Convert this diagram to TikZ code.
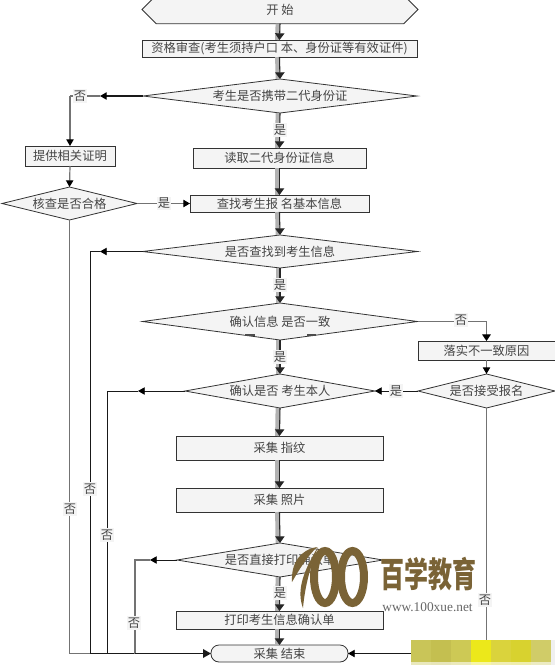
\documentclass[tikz,border=0pt]{standalone}
\usepackage{fontspec}
\setmainfont{Noto Sans CJK SC}
\newfontfamily\urlfont{Liberation Serif}
\usetikzlibrary{arrows.meta,shapes.geometric,shapes.misc}
\definecolor{boxfill}{HTML}{F4F4F4}
\definecolor{inkgray}{HTML}{444444}
\definecolor{logobrown}{HTML}{7A6336}
\tikzset{
  wh/.style 2 args={minimum width=#1*0.75pt, minimum height=#2*0.75pt}, % 节点尺寸
  base/.style={draw=black!80, line width=0.6pt, fill=boxfill, inner sep=0pt, outer sep=0pt, font=\fontsize{9.2}{11}\selectfont, text=inkgray},
  box/.style={base, rectangle},
  ask/.style={base, diamond, aspect=6},
  tag/.style={fill=boxfill, inner sep=1pt, font=\fontsize{9.2}{11}\selectfont, text=inkgray},
  band/.style={draw=black!30, line width=3.4pt},
  flow/.style={draw=black!85, line width=0.8pt, -{Triangle[width=7pt,length=5pt]}},
  wire/.style={draw=black!90, line width=0.6pt},
  graywire/.style={draw=black!55, line width=0.9pt},
  tipblack/.style={-{Triangle[width=5.5pt,length=5pt,color=black,fill=black]}}
}
\begin{document}
\begin{tikzpicture}[x=0.75pt,y=-0.75pt]
    \useasboundingbox (0,0) rectangle (555,665);

    \node[base, chamfered rectangle, chamfered rectangle xsep=13.5pt, chamfered rectangle ysep=6.4pt, wh={276}{17}] (begin) at (280,9.5) {开 始};
    \node[box, wh={275}{17}] (qualify) at (279.5,48.5) {资格审查(考生须持户口 本、身份证等有效证件)};
    \node[ask, wh={274}{34}] (card) at (280,96) {考生是否携带二代身份证};
    \node[box, wh={90}{20}] (proof) at (70,156) {提供相关证明};
    \node[box, wh={173}{20}] (read) at (279.5,158) {读取二代身份证信息};
    \node[ask, aspect=5, wh={135}{33}] (verify) at (69.5,203.5) {核查是否合格};
    \node[box, wh={179}{17}] (search) at (279.5,203.5) {查找考生报 名基本信息};
    \node[ask, wh={275}{33}] (found) at (280,251.5) {是否查找到考生信息};
    \node[ask, wh={275}{37}] (match) at (280,321.5) {确认信息 是否一致};
    \node[box, wh={137}{19}] (reason) at (486.5,350.5) {落实不一致原因};
    \node[ask, aspect=5, wh={137}{34}] (accept) at (486.5,391) {是否接受报名};
    \node[ask, wh={190}{34}] (self) at (280,391) {确认是否 考生本人};
    \node[box, wh={207}{24}] (finger) at (279.5,448) {采集 指纹};
    \node[box, wh={207}{24}] (photo) at (279.5,500) {采集 照片};
    \node[ask, wh={206}{34}] (direct) at (280,560) {是否直接打印确认单};
    \node[box, wh={207}{18}] (print) at (279.5,620) {打印考生信息确认单};
    \node[base, rectangle, rounded corners=6pt, wh={137}{17}] (finish) at (279.5,653.5) {采集 结束};

    \coordinate (cardtip) at (100,96);
    \coordinate (cardturn) at (70,96);
    \coordinate (foundtip) at (100,251.5);
    \coordinate (foundturn) at (90,251.5);
    \coordinate (selftip) at (138,391);
    \coordinate (selfturn) at (107,391);
    \coordinate (directtip) at (150,560);
    \coordinate (directturn) at (135,560);
    \coordinate (matchturn) at (486.5,321.5);
    \coordinate (leftjoin) at (135,653.5);
    \coordinate (rightjoin) at (486.5,653.5);

    % 竖直主干
    \foreach \a/\b in {begin/qualify,qualify/card,card/read,read/search,search/found,found/match,match/self,self/finger,finger/photo,photo/direct,direct/print,print/finish} {
      \draw[band] ([xshift=-1.6pt]\a.south) -- ([xshift=-1.6pt]\b.north);
      \draw[flow] (\a.south) -- (\b.north);
    }

    \draw[wire, line width=0.9pt, tipblack] (card.west) -- (cardtip);
    \draw[graywire] (cardtip) -- (cardturn);
    \draw[graywire, tipblack] (cardturn) -- (proof.north);
    \draw[graywire, tipblack] (proof.south) -- (verify.north);
    \draw[graywire, tipblack] (verify.east) -- (search.west);
    \draw[graywire] (verify.south) |- (finish.west);
    \draw[wire, tipblack] (found.west) -- (foundtip);
    \draw[wire] (foundtip) -- (foundturn) |- (finish.west);
    \draw[wire, tipblack] (self.west) -- (selftip);
    \draw[wire] (selftip) -- (selfturn) |- (finish.west);
    \draw[wire, tipblack] (direct.west) -- (directtip);
    \draw[graywire] (directtip) -- (directturn) |- (finish.west);
    \draw[wire, line width=1pt, -{Triangle[width=6.5pt,length=6pt]}] (leftjoin) -- (finish.west);
    \draw[graywire] (match.east) -- (matchturn);
    \draw[graywire, -{Triangle[width=6.5pt,length=5pt,color=black,fill=black]}] (matchturn) -- (reason.north);
    \draw[graywire, tipblack] (reason.south) -- (accept.north);
    \draw[wire, tipblack] (accept.west) -- (self.east);
    \draw[graywire] (accept.south) |- (finish.east);
    \draw[wire, tipblack] (rightjoin) -- (finish.east);

    \foreach \n/\x/\y/\t in {a/80/96/否,b/280/130/是,c/164/203.5/是,d/70/509/否,e/90/489/否,f/280/285/是,g/461/320/否,h/280/357/是,i/396/391/是,j/107/535/否,k/485/600/否,l/280/593/是,m/134/623/否} {
      \node[tag] (tag\n) at (\x,\y) {\t};
    }

    % 菱形下沿的污点
    \fill[black!70] (245,333.5) rectangle (255,336);
    \fill[black!70] (307,333.5) rectangle (316,336);

    % 打码色块
    \foreach \i/\c in {0/C9C558,1/C4BF50,2/CDC955,3/ECE81A,4/DAD33C,5/D8D22F,6/D0CC68} {
      \definecolor{patch}{HTML}{\c}
      \fill[patch] (411+\i*20,640) rectangle (431+\i*20,662);
      \fill[patch!40!white] (411+\i*20,662) rectangle (431+\i*20,665);
    }
    \fill[black!6] (551,640) rectangle (555,665);

    % 水印
    \fill[logobrown] (317,547) .. controls (300,550) and (291,563) .. (292,582) .. controls (299,570) and (306,558) .. (317,547);
    \fill[logobrown] (318,547) .. controls (304,570) and (296,590) .. (303,608) .. controls (305,585) and (311,565) .. (318,547);
    \draw[logobrown, line width=6pt] (325,577) ellipse [x radius=11, y radius=26];
    \draw[logobrown, line width=6pt] (352.5,577) ellipse [x radius=11.5, y radius=26];
    \node[inner sep=0pt, text=logobrown, font=\fontsize{18}{20}\selectfont\bfseries, yscale=1.45, transform shape] (brand) at (428.5,574) {百学教育};
    \node[inner sep=0pt, text=black!60, font=\urlfont\fontsize{10}{11}\selectfont] (site) at (427.5,607) {www.100xue.net};
    \end{tikzpicture}
\end{document}
